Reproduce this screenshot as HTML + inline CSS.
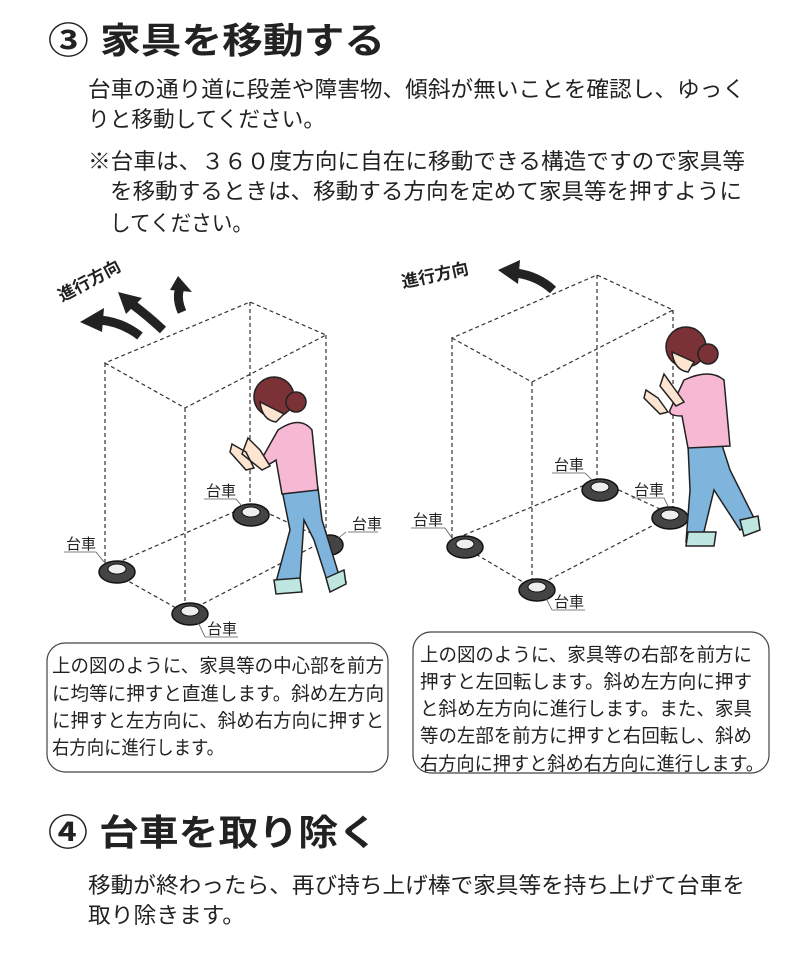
<!DOCTYPE html>
<html><head><meta charset="utf-8"><style>
html,body{margin:0;padding:0;background:#fff}
svg{display:block}
text{font-family:"Liberation Sans","Noto Sans CJK JP",sans-serif;fill:#222}
.t{font-weight:bold;font-size:36px}
.b{font-size:22px}
.s{font-size:19px}
.l{font-size:15px}
</style></head><body>
<svg width="800" height="955" viewBox="0 0 800 955" xmlns="http://www.w3.org/2000/svg">
<text class="t" x="48" y="53" textLength="337" lengthAdjust="spacingAndGlyphs">③ 家具を移動する</text>
<text class="b" x="88" y="97" textLength="657" lengthAdjust="spacingAndGlyphs">台車の通り道に段差や障害物、傾斜が無いことを確認し、ゆっく</text>
<text class="b" x="88" y="127" textLength="237" lengthAdjust="spacingAndGlyphs">りと移動してください。</text>
<text class="b" x="88" y="169" textLength="657" lengthAdjust="spacingAndGlyphs">※台車は、３６０度方向に自在に移動できる構造ですので家具等</text>
<text class="b" x="110" y="199" textLength="632" lengthAdjust="spacingAndGlyphs">を移動するときは、移動する方向を定めて家具等を押すように</text>
<text class="b" x="110" y="231" textLength="143" lengthAdjust="spacingAndGlyphs">してください。</text>

<g fill="none" stroke="#333" stroke-width="1.2" stroke-dasharray="4,3">
<path d="M105 363 L185 408 L326 335 L250 302 Z M105 363 V568 M185 408 V613 M326 335 V540 M250 302 V505 M105 568 L185 613 L326 540 L250 505 Z"/>
<path d="M452 338 L532 382 L673 310 L597 275 Z M452 338 V540 M532 382 V588 M673 310 V515 M597 275 V480 M452 540 L533 588 L673 515 L597 480 Z"/>
</g>
<!-- arrows -->
<g fill="none" stroke="#222" stroke-width="9">
<path d="M140 336 Q122 322 100 320"/>
<path d="M163 330 Q148 316 132 304"/>
<path d="M182 312 Q176 298 180 288"/>
<path d="M553 290 Q538 276 516 273"/>
</g>
<g fill="#222">
<polygon points="80,322 104,308 102,332"/>
<polygon points="118,292 142,298 126,314"/>
<polygon points="178,276 192,292 170,290"/>
<polygon points="498,270 520,260 518,284"/>
</g>
<text x="62" y="302" font-weight="bold" font-size="17" transform="rotate(-28 62 302)">進行方向</text>
<text x="403" y="288" font-weight="bold" font-size="17" transform="rotate(-12 403 288)">進行方向</text>

<!-- casters -->
<g fill="#444" stroke="#111" stroke-width="1.5">
<ellipse cx="117" cy="572" rx="18" ry="11"/><ellipse cx="190" cy="614" rx="18" ry="11"/><ellipse cx="251" cy="515" rx="18" ry="11"/><ellipse cx="330" cy="545" rx="13" ry="10"/>
<ellipse cx="465" cy="547" rx="18" ry="11"/><ellipse cx="537" cy="590" rx="18" ry="11"/><ellipse cx="600" cy="490" rx="18" ry="11"/><ellipse cx="670" cy="518" rx="18" ry="11"/>
</g>
<g fill="#eee" stroke="#111" stroke-width="1">
<ellipse cx="117" cy="569" rx="9" ry="5"/><ellipse cx="190" cy="611" rx="9" ry="5"/><ellipse cx="251" cy="512" rx="9" ry="5"/>
<ellipse cx="465" cy="544" rx="9" ry="5"/><ellipse cx="537" cy="587" rx="9" ry="5"/><ellipse cx="600" cy="487" rx="9" ry="5"/><ellipse cx="670" cy="515" rx="9" ry="5"/>
</g>
<g class="l">
<text x="66" y="549">台車</text><text x="206" y="496">台車</text><text x="352" y="529">台車</text><text x="207" y="634">台車</text>
<text x="413" y="525">台車</text><text x="554" y="470">台車</text><text x="634" y="495">台車</text><text x="554" y="607">台車</text>
</g>
<g fill="none" stroke="#555" stroke-width="0.8">
<path d="M64 552 H96 L104 562 M204 499 H236 L242 506 M348 532 H378 M336 540 L346 532 M205 637 H238 M205 637 L198 622 M411 528 H445 L452 538 M552 473 H585 L592 480 M632 498 H664 L668 506 M552 610 H585 M552 610 L545 596"/>
</g>

<!-- person left -->
<g stroke="#222" stroke-width="1.5">
<path fill="#7fb4dc" d="M282 490 L318 488 L322 520 L338 572 L346 582 L330 590 L314 540 L304 520 L300 580 L276 582 L290 530 Z"/>
<path fill="#bfe6e0" d="M274 580 L300 578 L302 592 L276 594 Z M326 578 L344 570 L346 584 L330 592 Z"/>
<path fill="#f6b8d2" d="M278 430 Q300 415 312 430 L318 490 L282 494 L276 460 Q262 470 260 462 Z"/>
<path fill="#fde5d2" d="M248 438 L260 450 L270 466 L262 470 L242 454 Z M232 444 L246 452 L254 468 L246 470 L230 452 Z"/>
<circle cx="274" cy="397" r="20" fill="#7a3236"/>
<circle cx="296" cy="402" r="10" fill="#7a3236"/>
<path fill="#fde5d2" d="M260 402 Q262 420 276 422 L284 414 Z"/>
</g>
<!-- person right -->
<g stroke="#222" stroke-width="1.5">
<path fill="#7fb4dc" d="M688 445 L722 445 L730 470 L756 522 L740 530 L714 490 L702 540 L686 542 L690 490 Z"/>
<path fill="#bfe6e0" d="M688 532 L716 532 L714 546 L686 546 Z M740 520 L758 516 L760 530 L744 536 Z"/>
<path fill="#f6b8d2" d="M684 380 Q710 368 724 380 L730 446 L688 448 L682 416 Q668 416 670 410 Z"/>
<path fill="#fde5d2" d="M664 374 L674 388 L684 402 L676 406 L660 386 Z M646 390 L658 398 L668 412 L660 414 L644 398 Z"/>
<circle cx="686" cy="347" r="20" fill="#7a3236"/>
<circle cx="708" cy="354" r="10" fill="#7a3236"/>
<path fill="#fde5d2" d="M672 352 Q674 370 688 372 L694 362 Z"/>
</g>

<rect x="47" y="643" width="341" height="129" rx="18" fill="none" stroke="#444" stroke-width="1.2"/>
<rect x="413" y="632" width="356" height="141" rx="18" fill="none" stroke="#444" stroke-width="1.2"/>
<g class="s">
<text x="52" y="672" textLength="332" lengthAdjust="spacingAndGlyphs">上の図のように、家具等の中心部を前方</text>
<text x="52" y="700" textLength="332" lengthAdjust="spacingAndGlyphs">に均等に押すと直進します。斜め左方向</text>
<text x="52" y="727" textLength="332" lengthAdjust="spacingAndGlyphs">に押すと左方向に、斜め右方向に押すと</text>
<text x="52" y="754" textLength="172" lengthAdjust="spacingAndGlyphs">右方向に進行します。</text>
<text x="420" y="661" textLength="332" lengthAdjust="spacingAndGlyphs">上の図のように、家具等の右部を前方に</text>
<text x="420" y="688" textLength="332" lengthAdjust="spacingAndGlyphs">押すと左回転します。斜め左方向に押す</text>
<text x="420" y="715" textLength="332" lengthAdjust="spacingAndGlyphs">と斜め左方向に進行します。また、家具</text>
<text x="420" y="742" textLength="332" lengthAdjust="spacingAndGlyphs">等の左部を前方に押すと右回転し、斜め</text>
<text x="420" y="770" textLength="344" lengthAdjust="spacingAndGlyphs">右方向に押すと斜め右方向に進行します。</text>
</g>

<text class="t" x="48" y="845" textLength="330" lengthAdjust="spacingAndGlyphs">④ 台車を取り除く</text>
<text class="b" x="88" y="893" textLength="657" lengthAdjust="spacingAndGlyphs">移動が終わったら、再び持ち上げ棒で家具等を持ち上げて台車を</text>
<text class="b" x="88" y="923" textLength="157" lengthAdjust="spacingAndGlyphs">取り除きます。</text>
</svg>
</body></html>
